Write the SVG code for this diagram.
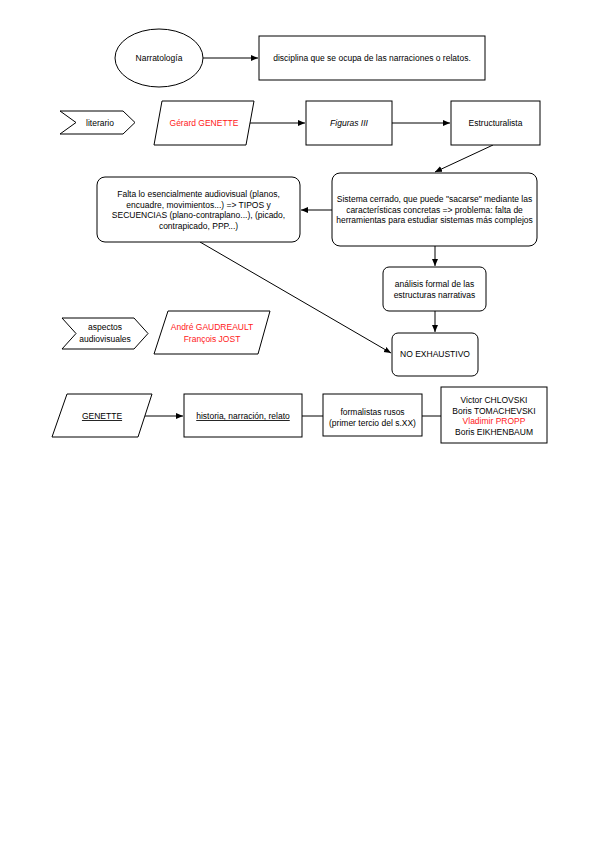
<svg xmlns="http://www.w3.org/2000/svg" width="599" height="848" viewBox="0 0 599 848">
<defs>
<style>
.s{fill:#fff;stroke:#000;stroke-width:1}
.t{font-family:"Liberation Sans",Arial,sans-serif;font-size:8.5px;fill:#000;text-anchor:middle}
.r{fill:#ff2020}
.u{text-decoration:underline}
.c{fill:none;stroke:#000;stroke-width:1}
</style>
<marker id="a" markerWidth="8" markerHeight="8" refX="7" refY="4" orient="auto" markerUnits="userSpaceOnUse">
<path d="M0,1 L7,4 L0,7 Z" fill="#000"/>
</marker>
</defs>
<rect width="599" height="848" fill="#fff"/>
<g id="connectors">
<line class="c" x1="203" y1="58" x2="258" y2="58" marker-end="url(#a)"/>
<line class="c" x1="249" y1="123" x2="305" y2="123" marker-end="url(#a)"/>
<line class="c" x1="392" y1="123" x2="450" y2="123" marker-end="url(#a)"/>
<line class="c" x1="493" y1="145" x2="435" y2="172" marker-end="url(#a)"/>
<line class="c" x1="332" y1="210" x2="301" y2="210" marker-end="url(#a)"/>
<line class="c" x1="200" y1="242" x2="391" y2="353" marker-end="url(#a)"/>
<line class="c" x1="435" y1="246" x2="435" y2="266" marker-end="url(#a)"/>
<line class="c" x1="435" y1="311" x2="435" y2="332" marker-end="url(#a)"/>
<line class="c" x1="145" y1="416" x2="183" y2="416" marker-end="url(#a)"/>
<line class="c" x1="302" y1="416" x2="323" y2="416"/>
<line class="c" x1="422" y1="416" x2="441" y2="416"/>
</g>
<g id="narratologia">
<ellipse class="s" cx="159" cy="58" rx="44" ry="29"/>
<text class="t" x="159" y="61">Narratología</text>
</g>
<g id="disciplina">
<rect class="s" x="259" y="36" width="226" height="44"/>
<text class="t" x="372" y="61">disciplina que se ocupa de las narraciones o relatos.</text>
</g>
<g id="literario">
<polygon class="s" points="60,111 123,111 135,122.5 123,134 60,134 76,122.5"/>
<text class="t" x="100" y="125.5">literario</text>
</g>
<g id="gerard">
<polygon class="s" points="162,101 254,101 246,145 154,145"/>
<text class="t r" x="204" y="126">Gérard GENETTE</text>
</g>
<g id="figuras">
<rect class="s" x="306" y="101" width="86" height="44"/>
<text class="t" x="349" y="126" font-style="italic">Figuras III</text>
</g>
<g id="estructuralista">
<rect class="s" x="451" y="101" width="89" height="44"/>
<text class="t" x="495.5" y="126">Estructuralista</text>
</g>
<g id="falta">
<rect class="s" x="97" y="177" width="203" height="65" rx="8"/>
<text class="t" x="198.5" y="197">Falta lo esencialmente audiovisual (planos,</text>
<text class="t" x="198.5" y="207.5">encuadre, movimientos...) =&gt; TIPOS y</text>
<text class="t" x="198.5" y="218">SECUENCIAS (plano-contraplano...), (picado,</text>
<text class="t" x="198.5" y="228.5">contrapicado, PPP...)</text>
</g>
<g id="sistema">
<rect class="s" x="332" y="173" width="205" height="73" rx="8"/>
<text class="t" x="434.5" y="202">Sistema cerrado, que puede "sacarse" mediante las</text>
<text class="t" x="434.5" y="212.5">características concretas =&gt; problema: falta de</text>
<text class="t" x="434.5" y="223">herramientas para estudiar sistemas más complejos</text>
</g>
<g id="analisis">
<rect class="s" x="383" y="267" width="103" height="44" rx="6"/>
<text class="t" x="434.5" y="287">análisis formal de las</text>
<text class="t" x="434.5" y="297.5">estructuras narrativas</text>
</g>
<g id="aspectos">
<polygon class="s" points="62,318 134,318 148,333.5 134,349 62,349 76,333.5"/>
<text class="t" x="105" y="330">aspectos</text>
<text class="t" x="105" y="341.5">audiovisuales</text>
</g>
<g id="andre">
<polygon class="s" points="168,311 270,311 258,354 154,354"/>
<text class="t r" x="212" y="330">André GAUDREAULT</text>
<text class="t r" x="212" y="341.5">François JOST</text>
</g>
<g id="noexhaustivo">
<rect class="s" x="392" y="333" width="86" height="43" rx="6"/>
<text class="t" x="435" y="357">NO EXHAUSTIVO</text>
</g>
<g id="genette">
<polygon class="s" points="67,394 152,394 138,437 52,437"/>
<text class="t u" x="102" y="419">GENETTE</text>
</g>
<g id="historia">
<rect class="s" x="184" y="394" width="118" height="43"/>
<text class="t u" x="243" y="419">historia, narración, relato</text>
</g>
<g id="formalistas">
<rect class="s" x="323" y="394" width="99" height="42"/>
<text class="t" x="372.5" y="414.5">formalistas rusos</text>
<text class="t" x="372.5" y="425.5">(primer tercio del s.XX)</text>
</g>
<g id="victor">
<rect class="s" x="441" y="387" width="106" height="56"/>
<text class="t" x="494" y="403">Victor CHLOVSKI</text>
<text class="t" x="494" y="413.5">Boris TOMACHEVSKI</text>
<text class="t r" x="494" y="424">Vladimir PROPP</text>
<text class="t" x="494" y="434.5">Boris EIKHENBAUM</text>
</g>
</svg>
